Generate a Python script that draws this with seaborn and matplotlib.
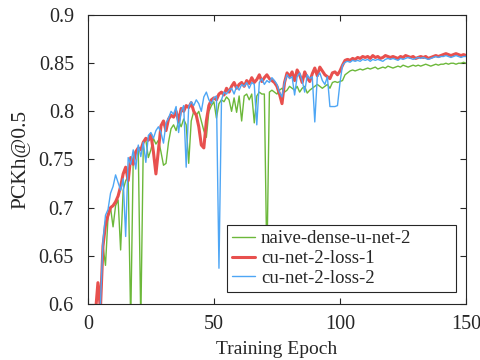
"""Recreate PCKh@0.5 training curves."""

import numpy as np
import pandas as pd
import matplotlib
matplotlib.use("Agg")
import matplotlib.pyplot as plt
import seaborn as sns

epochs = list(range(1, 151))

naive_dense = [
    0.480, 0.520, 0.550, 0.570, 0.590, 0.660, 0.640, 0.690, 0.700, 0.680,
    0.702, 0.708, 0.656, 0.718, 0.728, 0.732, 0.580, 0.752, 0.758, 0.760,
    0.580, 0.768, 0.770, 0.752, 0.760, 0.772, 0.766, 0.770, 0.758, 0.744,
    0.746, 0.768, 0.782, 0.786, 0.780, 0.790, 0.784, 0.792, 0.786, 0.746,
    0.790, 0.800, 0.796, 0.800, 0.790, 0.780, 0.773, 0.800, 0.806, 0.810,
    0.793, 0.808, 0.812, 0.810, 0.815, 0.812, 0.800, 0.814, 0.799, 0.816,
    0.790, 0.816, 0.818, 0.812, 0.818, 0.788, 0.816, 0.820, 0.818, 0.818,
    0.640, 0.820, 0.822, 0.820, 0.818, 0.822, 0.824, 0.820, 0.822, 0.826,
    0.824, 0.822, 0.826, 0.820, 0.824, 0.826, 0.819, 0.822, 0.824, 0.826,
    0.828, 0.826, 0.824, 0.826, 0.828, 0.824, 0.830, 0.831, 0.830, 0.831,
    0.832, 0.838, 0.840, 0.842, 0.843, 0.842, 0.843, 0.844, 0.843, 0.844,
    0.845, 0.844, 0.845, 0.846, 0.844, 0.845, 0.846, 0.845, 0.847, 0.846,
    0.845, 0.846, 0.847, 0.846, 0.848, 0.847, 0.846, 0.847, 0.848, 0.847,
    0.848, 0.847, 0.848, 0.849, 0.848, 0.847, 0.848, 0.849, 0.848, 0.849,
    0.849, 0.850, 0.849, 0.850, 0.850, 0.849, 0.850, 0.850, 0.851, 0.850,
]

cu_net_loss1 = [
    0.520, 0.560, 0.590, 0.622, 0.595, 0.660, 0.682, 0.692, 0.700, 0.702,
    0.706, 0.712, 0.722, 0.735, 0.742, 0.728, 0.752, 0.745, 0.758, 0.762,
    0.760, 0.768, 0.772, 0.770, 0.776, 0.758, 0.735, 0.760, 0.785, 0.790,
    0.780, 0.792, 0.796, 0.794, 0.800, 0.790, 0.803, 0.800, 0.806, 0.804,
    0.809, 0.800, 0.796, 0.784, 0.765, 0.762, 0.790, 0.806, 0.812, 0.814,
    0.812, 0.818, 0.820, 0.817, 0.824, 0.820, 0.826, 0.830, 0.824, 0.828,
    0.830, 0.826, 0.832, 0.829, 0.835, 0.830, 0.833, 0.838, 0.831, 0.835,
    0.838, 0.834, 0.832, 0.830, 0.826, 0.818, 0.808, 0.830, 0.840, 0.836,
    0.841, 0.832, 0.843, 0.838, 0.830, 0.841, 0.835, 0.831, 0.839, 0.845,
    0.837, 0.846, 0.842, 0.838, 0.836, 0.834, 0.840, 0.841, 0.838, 0.842,
    0.848, 0.853, 0.854, 0.853, 0.855, 0.854, 0.856, 0.855, 0.857, 0.856,
    0.857, 0.855, 0.858, 0.856, 0.857, 0.855, 0.856, 0.858, 0.857, 0.856,
    0.857, 0.856, 0.855, 0.857, 0.856, 0.858, 0.857, 0.856, 0.857, 0.855,
    0.856, 0.857, 0.856, 0.857, 0.855, 0.856, 0.857, 0.858, 0.857, 0.858,
    0.859, 0.860, 0.859, 0.858, 0.859, 0.860, 0.859, 0.858, 0.859, 0.858,
]

cu_net_loss2 = [
    0.500, 0.540, 0.570, 0.585, 0.600, 0.665, 0.692, 0.698, 0.715, 0.722,
    0.734, 0.726, 0.718, 0.730, 0.670, 0.752, 0.745, 0.760, 0.740, 0.765,
    0.753, 0.768, 0.747, 0.775, 0.778, 0.772, 0.780, 0.784, 0.778, 0.767,
    0.788, 0.793, 0.800, 0.797, 0.805, 0.778, 0.800, 0.806, 0.742, 0.805,
    0.810, 0.806, 0.812, 0.808, 0.800, 0.815, 0.820, 0.812, 0.808, 0.814,
    0.816, 0.637, 0.812, 0.820, 0.818, 0.822, 0.824, 0.818, 0.826, 0.822,
    0.828, 0.826, 0.830, 0.824, 0.830, 0.828, 0.786, 0.830, 0.834, 0.828,
    0.832, 0.830, 0.835, 0.832, 0.828, 0.820, 0.815, 0.830, 0.838, 0.834,
    0.836, 0.817, 0.836, 0.840, 0.832, 0.820, 0.838, 0.834, 0.836, 0.789,
    0.836, 0.840, 0.832, 0.828, 0.836, 0.805, 0.805, 0.805, 0.806, 0.830,
    0.848, 0.851, 0.852, 0.851, 0.853, 0.852, 0.853, 0.852, 0.854, 0.853,
    0.854, 0.852, 0.854, 0.853, 0.854, 0.853, 0.852, 0.854, 0.855, 0.854,
    0.855, 0.854, 0.853, 0.855, 0.854, 0.855, 0.856, 0.855, 0.854, 0.855,
    0.856, 0.855, 0.856, 0.855, 0.854, 0.855, 0.856, 0.857, 0.856, 0.857,
    0.857, 0.858, 0.857, 0.856, 0.857, 0.858, 0.857, 0.856, 0.857, 0.857,
]

series = [
    ("naive-dense-u-net-2", naive_dense, "#6cb83a", 1.0),
    ("cu-net-2-loss-1", cu_net_loss1, "#e8504e", 2.2),
    ("cu-net-2-loss-2", cu_net_loss2, "#4ea6f5", 1.0),
]

sns.set_style("ticks")
plt.rcParams["font.family"] = ["Liberation Serif", "DejaVu Serif"]

fig = plt.figure(figsize=(4.8, 3.6), dpi=100)
ax = fig.add_axes([0.183, 0.156, 0.788, 0.802])

for name, values, color, lw in series:
    df = pd.DataFrame({"epoch": epochs, "pckh": values})
    sns.lineplot(data=df, x="epoch", y="pckh", color=color, linewidth=lw,
                 label=name, ax=ax)

ax.set_xlim(0, 150)
ax.set_ylim(0.6, 0.9)
ax.set_xticks([0, 50, 100, 150])
ax.set_yticks([0.6, 0.65, 0.7, 0.75, 0.8, 0.85, 0.9])
ax.set_yticklabels(["0.6", "0.65", "0.7", "0.75", "0.8", "0.85", "0.9"])
ax.tick_params(direction="in", top=True, right=True, length=4, width=0.8,
               labelsize=14.5, colors="#262626")
ax.tick_params(axis="y", pad=10)
ax.tick_params(axis="x", pad=8)
for s in ax.spines.values():
    s.set_visible(True)
    s.set_color("#262626")
    s.set_linewidth(0.8)
ax.set_xlabel("Training Epoch", fontsize=14, color="#262626", labelpad=5)
ax.set_ylabel("PCKh@0.5", fontsize=15.5, color="#262626", labelpad=6)

# MATLAB-style legend box with spare room on the right
leg = ax.legend(loc="lower left", bbox_to_anchor=(0.368, 0.042, 0.606, 0.25),
                mode="expand", fontsize=13.5, frameon=True, fancybox=False,
                framealpha=1, edgecolor="#262626", handlelength=1.25,
                handletextpad=0.3, borderpad=0.25, labelspacing=0.15,
                borderaxespad=0)
leg.get_frame().set_linewidth(0.8)

fig.savefig("out.png", dpi=100)
plt.close(fig)
